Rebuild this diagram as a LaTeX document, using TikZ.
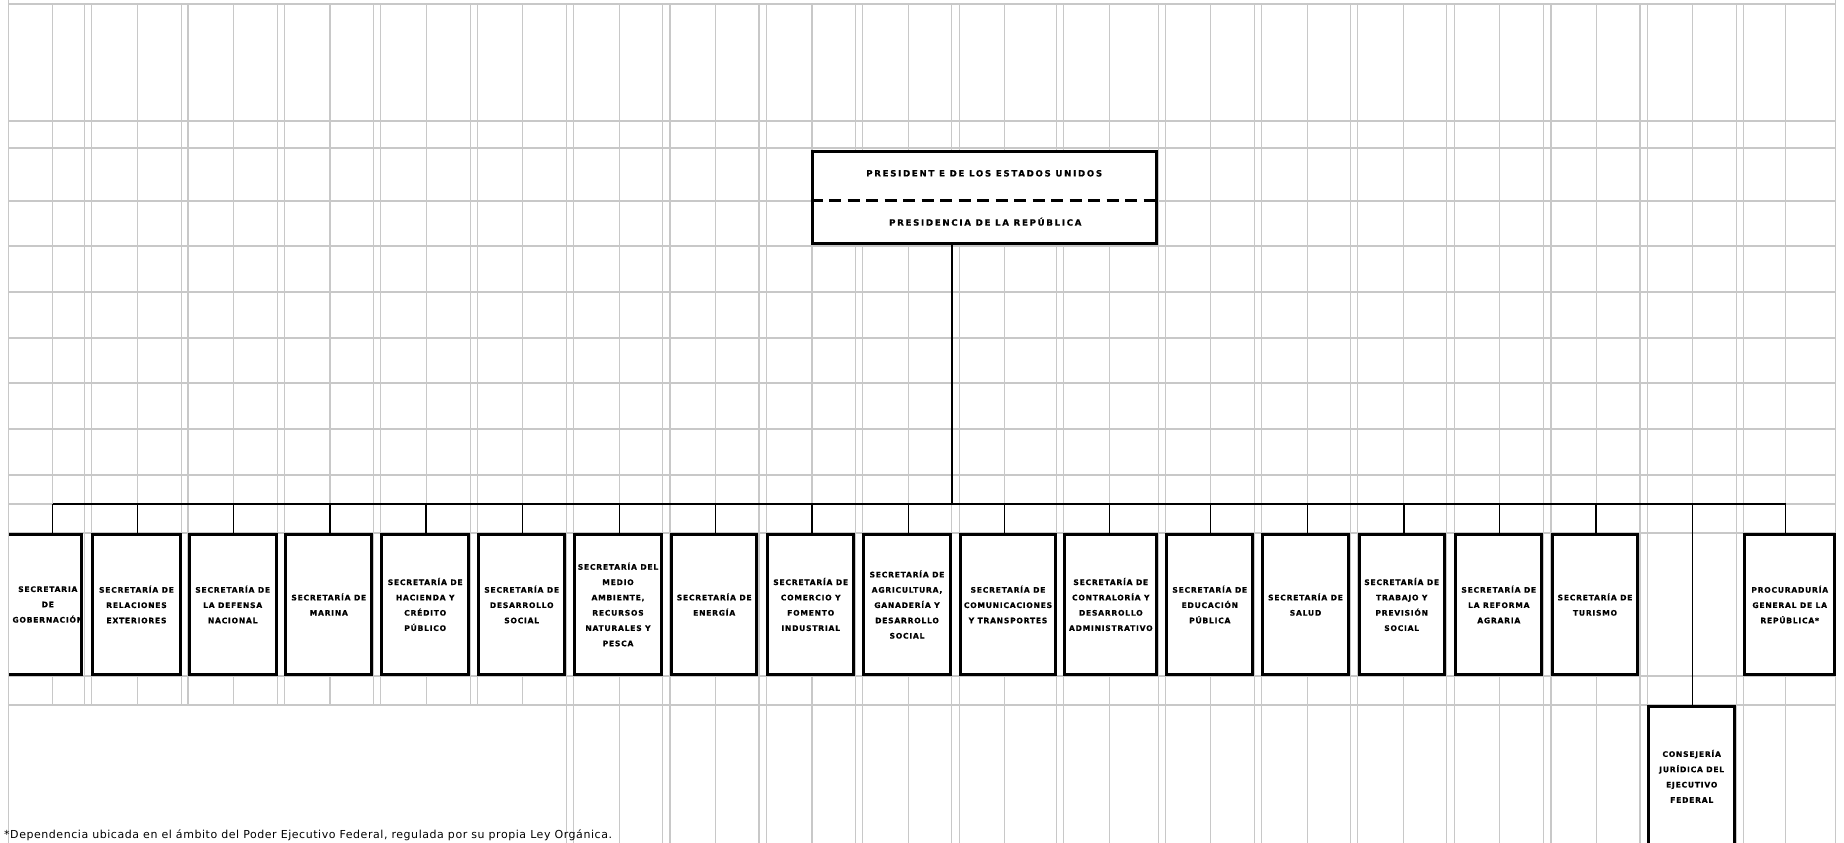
\documentclass[tikz,border=0pt]{standalone}
\usepackage{fontspec}
\setmainfont{DejaVu Sans}
\newfontfamily\pixfont[LetterSpace=10, FakeBold=0.6]{DejaVu Sans}
\newfontfamily\headfont[LetterSpace=20, FakeBold=0.8]{DejaVu Sans}
\newfontfamily\notefont[LetterSpace=5]{DejaVu Sans}
\definecolor{gridgray}{RGB}{200,200,200}
\newcommand\boxfnt{\pixfont\bfseries\fontsize{7.6}{15.3}\selectfont}
\newcommand\headfnt{\headfont\bfseries\fontsize{8.6}{10}\selectfont}
\newcommand\notefnt{\notefont\fontsize{11}{13}\selectfont}
\tikzset{
  gridline/.style={draw=gridgray, line width=1.2pt},
  orgbox/.style={draw=black, line width=3pt, fill=white, inner sep=0pt, align=center, font=\boxfnt, minimum height=139.4pt},
  conn/.style={draw=black, line width=1.4pt},
  headtext/.style={inner sep=0pt, font=\headfnt},
}
\begin{document}
\begin{tikzpicture}[x=1pt,y=-1pt]
\useasboundingbox[fill=white] (0,0) rectangle (1844,843);
% ---------- spreadsheet grid ----------
\foreach \y in {4,121,148,201,246,292,338,383,429,475,504,533,676,705}
  \draw[gridline] (8.4,\y) -- (1835.5,\y);
\foreach \x in {8.4,1835.5}
  \draw[gridline] (\x,0) -- (\x,843);
\foreach \x in {52.6,84.6,91.5,137.2,181.5,188,233.4,277.6,284.5,330,373.6,380.5,426.2,470.2,477.5,522.8}
  \draw[gridline] (\x,4) -- (\x,705);
\foreach \x in {566.5,573.5,619.1,662.8,670,715.6,759,766.2,812,855.6,862.5,908.1,951.8,959.5,1004.2,1056.7,1063.5,1109.3,1158.3,1165.5,1210.8,1254.3,1261.2,1307.2,1350.5,1357.8,1403.7,1446.5,1454.5,1499.5,1543.8,1551,1596.2,1640,1647.5,1692.7,1736.3,1743.8,1785.4}
  \draw[gridline] (\x,4) -- (\x,843);
% ---------- president box ----------
\node[draw=black, line width=3pt, fill=white, minimum width=344.6pt, minimum height=92pt, inner sep=0pt] (pres) at (984.5,197.5) {};
\draw[line width=3pt, dash pattern=on 12pt off 6.5pt] ([yshift=-2.5pt]pres.west) -- ([yshift=-2.5pt]pres.east);
\node[headtext] (pt1) at (984.2,173.3) {PRESIDENT E DE LOS ESTADOS UNIDOS};
\node[headtext] (pt2) at (985.3,221.7) {PRESIDENCIA DE LA REPÚBLICA};
% ---------- secretarias ----------
\node[orgbox, draw=none, minimum width=72pt] (b1) at (47.8,604.5) {SECRETARIA\\DE\\GOBERNACIÓN};
\draw[line width=3pt] (9.3,534.9) -- (81.8,534.9) -- (81.8,674.2) -- (9.3,674.2);
\node[orgbox, minimum width=87.4pt] (b2) at (136.5,604.5) {SECRETARÍA DE\\RELACIONES\\EXTERIORES};
\node[orgbox, minimum width=87pt] (b3) at (232.7,604.5) {SECRETARÍA DE\\LA DEFENSA\\NACIONAL};
\node[orgbox, minimum width=86pt] (b4) at (328.8,604.5) {SECRETARÍA DE\\MARINA};
\node[orgbox, minimum width=86.7pt] (b5) at (425.2,604.5) {SECRETARÍA DE\\HACIENDA Y\\CRÉDITO\\PÚBLICO};
\node[orgbox, minimum width=85.7pt] (b6) at (521.7,604.5) {SECRETARÍA DE\\DESARROLLO\\SOCIAL};
\node[orgbox, minimum width=86.4pt] (b7) at (618,604.5) {SECRETARÍA DEL\\MEDIO\\AMBIENTE,\\RECURSOS\\NATURALES Y\\PESCA};
\node[orgbox, minimum width=85.3pt] (b8) at (714.2,604.5) {SECRETARÍA DE\\ENERGÍA};
\node[orgbox, minimum width=86.3pt] (b9) at (810.7,604.5) {SECRETARÍA DE\\COMERCIO Y\\FOMENTO\\INDUSTRIAL};
\node[orgbox, minimum width=86.4pt] (b10) at (907,604.5) {SECRETARÍA DE\\AGRICULTURA,\\GANADERÍA Y\\DESARROLLO\\SOCIAL};
\node[orgbox, minimum width=94.4pt] (b11) at (1008,604.5) {SECRETARÍA DE\\COMUNICACIONES\\Y TRANSPORTES};
\node[orgbox, minimum width=92pt] (b12) at (1110.8,604.5) {SECRETARÍA DE\\CONTRALORÍA Y\\DESARROLLO\\ADMINISTRATIVO};
\node[orgbox, minimum width=86pt] (b13) at (1209.8,604.5) {SECRETARÍA DE\\EDUCACIÓN\\PÚBLICA};
\node[orgbox, minimum width=86pt] (b14) at (1305.5,604.5) {SECRETARÍA DE\\SALUD};
\node[orgbox, minimum width=85pt] (b15) at (1401.7,604.5) {SECRETARÍA DE\\TRABAJO Y\\PREVISIÓN\\SOCIAL};
\node[orgbox, minimum width=86pt] (b16) at (1498.8,604.5) {SECRETARÍA DE\\LA REFORMA\\AGRARIA};
\node[orgbox, minimum width=85.6pt] (b17) at (1595,604.5) {SECRETARÍA DE\\TURISMO};
\node[orgbox, minimum width=85.7pt] (cons) at (1691.7,776.3) {CONSEJERÍA\\JURÍDICA DEL\\EJECUTIVO\\FEDERAL};
\node[orgbox, minimum width=89.7pt] (b18) at (1789.7,604.5) {PROCURADURÍA\\GENERAL DE LA\\REPÚBLICA*};
% ---------- connectors ----------
\coordinate (trunk) at (952,504);
\coordinate (m1) at (52.7,504);
\coordinate (m18) at (1785.7,504);
\draw[conn] (pres.south -| trunk) -- (trunk);
\draw[conn] (m1) -- (m18);
\draw[conn] (m1) -- (m1 |- b1.north);
\draw[conn] (m18) -- (m18 |- b18.north);
\foreach \n/\mx in {b2/137.3,b3/233.3,b4/330,b5/426,b6/522.7,b7/619.3,b8/715.7,b9/812,b10/908.3,b11/1004.3,b12/1109.3,b13/1210.7,b14/1307.3,b15/1404,b16/1499.3,b17/1596,cons/1692.7}
  \draw[conn] (\mx,504) -- (\mx,504 |- \n.north);
% ---------- footnote ----------
\node[anchor=west, inner sep=0pt, font=\notefnt] (note) at (4,835.5) {*Dependencia ubicada en el ámbito del Poder Ejecutivo Federal, regulada por su propia Ley Orgánica.};
\end{tikzpicture}
\end{document}
